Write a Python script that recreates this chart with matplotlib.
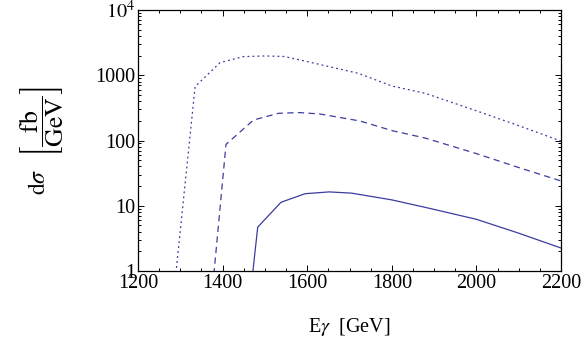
import matplotlib
matplotlib.use("Agg")

import matplotlib.pyplot as plt
import matplotlib.ticker as mticker

# photon energy (GeV) and differential cross section (fb/GeV)
e_solid = [1465, 1483, 1538, 1595, 1652, 1705, 1800, 1890, 2000, 2100, 2200]
xs_solid = [0.4, 4.7, 11.3, 15.3, 16.3, 15.6, 12.3, 9.1, 6.2, 3.8, 2.25]

e_dashed = [1370, 1408, 1473, 1532, 1580, 1630, 1725, 1800, 1879, 2000, 2100, 2200]
xs_dashed = [0.2, 87, 206, 261, 268, 255, 199, 142, 109, 63, 38.5, 24]

e_dotted = [1280, 1335, 1394, 1449, 1500, 1545, 1600, 1721, 1800, 1879, 2000, 2100, 2200]
xs_dotted = [0.23, 670, 1560, 1930, 1975, 1940, 1620, 1070, 685, 529, 285, 169, 98]

y_ticks = [1, 10, 100, 1000, 10000]
y_tick_labels = ["1", "10", "100", "1000", r"$10^4$"]
x_ticks = [1200, 1400, 1600, 1800, 2000, 2200]

plt.rcParams["font.family"] = ["Liberation Serif", "DejaVu Serif"]
plt.rcParams["mathtext.fontset"] = "stix"

LINE_COLOR = "#3c3ca0"

fig = plt.figure(figsize=(5.86, 3.43), dpi=100)
ax = fig.add_axes([138 / 586, 1 - 271 / 343, (561 - 138) / 586, (271 - 10) / 343])

ax.plot(e_dotted, xs_dotted, color=LINE_COLOR, lw=0.9, dashes=(1.5, 2.5))
ax.plot(e_dashed, xs_dashed, color=LINE_COLOR, lw=0.9, dashes=(5, 3.5))
ax.plot(e_solid, xs_solid, color=LINE_COLOR, lw=0.9)

ax.set_yscale("log")
ax.set_xlim(1200, 2200)
ax.set_ylim(1, 10000)

ax.set_xticks(x_ticks)
ax.xaxis.set_minor_locator(mticker.MultipleLocator(50))
ax.yaxis.set_major_locator(mticker.FixedLocator(y_ticks))
ax.yaxis.set_major_formatter(mticker.FixedFormatter(y_tick_labels))
ax.yaxis.set_minor_locator(mticker.LogLocator(base=10, subs=range(2, 10)))
ax.yaxis.set_minor_formatter(mticker.NullFormatter())

ax.tick_params(which="both", direction="in", top=True, right=True, labelsize=14.5, width=0.7)
ax.tick_params(which="major", length=4.5, pad=2)
ax.tick_params(which="minor", length=2.5)
for sp in ax.spines.values():
    sp.set_linewidth(0.9)

ax.set_xlabel(r"E$\gamma$  [GeV]", fontsize=14.5, labelpad=17)

# y label in two pieces so the fraction can be drawn at full text size
ax.text(-0.232, 0.343, r"$\mathrm{d}\sigma$", transform=ax.transAxes,
        rotation=90, ha="center", va="center", fontsize=17)
ax.text(-0.226, 0.573, r"$\left[\dfrac{\mathrm{fb}}{\mathrm{GeV}}\right]$", transform=ax.transAxes,
        rotation=90, ha="center", va="center", fontsize=18.5)

fig.savefig("out.png", dpi=100)
